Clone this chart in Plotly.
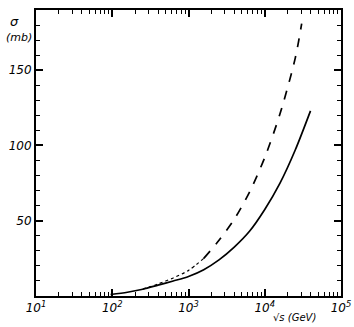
import plotly.graph_objects as go

# Energy sqrt(s) in GeV and cross sections in mb
solid_s = [95, 158, 251, 398, 631, 1000, 1585, 2512, 3981, 6310, 10000, 15849, 25119, 39811]
solid_sigma = [1.0, 2.5, 4.5, 7.2, 10.0, 13.0, 17.5, 24.0, 32.5, 43.0, 57.5, 75.0, 97.0, 123.0]

dotted_s = [251, 398, 631, 1000, 1585]
dotted_sigma = [4.5, 8.0, 12.0, 17.0, 25.0]

dashed_s = [1585, 2512, 3981, 6310, 10000, 15849, 25119, 30500]
dashed_sigma = [25.0, 37.0, 51.0, 69.0, 92.0, 121.0, 158.0, 181.0]

x_tickvals = [10, 100, 1000, 10000, 100000]
x_ticktext = ["10<sup>1</sup>", "10<sup>2</sup>", "10<sup>3</sup>", "10<sup>4</sup>", "10<sup>5</sup>"]
x_minorvals = [m * d for d in [10, 100, 1000, 10000] for m in range(2, 10)]
y_tickvals = [50, 100, 150]
y_ticktext = ["50", "100", "150"]
y_minorvals = [v for v in range(10, 190, 10) if v % 50 != 0]

fig = go.Figure()
fig.add_trace(go.Scatter(x=solid_s, y=solid_sigma, mode="lines",
                         line=dict(color="black", width=1.7, shape="spline", smoothing=0.8), showlegend=False))
fig.add_trace(go.Scatter(x=dotted_s, y=dotted_sigma, mode="lines",
                         line=dict(color="black", width=1.2, dash="dot", shape="spline", smoothing=0.8), showlegend=False))
fig.add_trace(go.Scatter(x=dashed_s, y=dashed_sigma, mode="lines",
                         line=dict(color="black", width=1.7, dash="dash", shape="spline", smoothing=0.8), showlegend=False))
# invisible trace to carry the minor-tick axes
fig.add_trace(go.Scatter(x=[10], y=[0], xaxis="x2", yaxis="y2", mode="markers",
                         marker=dict(opacity=0), showlegend=False, hoverinfo="skip"))

font = dict(family="DejaVu Sans", size=12, color="black", style="italic")

fig.update_layout(
    xaxis=dict(type="log", range=[1, 5], tickvals=x_tickvals, ticktext=x_ticktext,
               ticks="inside", ticklen=7, tickwidth=1.6, tickcolor="black",
               showline=True, linewidth=2, linecolor="black", mirror="ticks",
               showgrid=False, zeroline=False, tickfont=font, automargin=False),
    yaxis=dict(range=[0, 190], tickvals=y_tickvals, ticktext=y_ticktext,
               ticks="inside", ticklen=7, tickwidth=1.6, tickcolor="black",
               showline=True, linewidth=2, linecolor="black", mirror="ticks",
               showgrid=False, zeroline=False, tickfont=font, automargin=False),
    xaxis2=dict(type="log", range=[1, 5], overlaying="x", side="bottom", anchor="y",
                tickvals=x_minorvals, showticklabels=False, ticks="inside", ticklen=4,
                tickwidth=1.3, tickcolor="black", mirror="ticks", showline=False,
                showgrid=False, zeroline=False, automargin=False),
    yaxis2=dict(range=[0, 190], overlaying="y", side="left", anchor="x",
                tickvals=y_minorvals, showticklabels=False, ticks="inside", ticklen=4,
                tickwidth=1.3, tickcolor="black", mirror="ticks", showline=False,
                showgrid=False, zeroline=False, automargin=False),
)

fig.add_annotation(text="σ", xref="paper", yref="paper", x=-0.069, y=0.96, xanchor="center", yanchor="middle",
                   showarrow=False, font=dict(family="DejaVu Sans", size=13, color="black", style="italic"))
fig.add_annotation(text="(mb)", xref="paper", yref="paper", x=-0.056, y=0.905, xanchor="center", yanchor="middle",
                   showarrow=False, font=dict(family="DejaVu Sans", size=11, color="black", style="italic"))
fig.add_annotation(text="√s (GeV)", xref="paper", yref="paper", x=0.846, y=-0.075, xanchor="center", yanchor="middle",
                   showarrow=False, font=dict(family="DejaVu Sans", size=10, color="black", style="italic"))

fig.update_layout(width=354, height=327, margin=dict(l=36, r=13, t=10, b=31),
                  paper_bgcolor="white", plot_bgcolor="white")
fig.write_html("out.html", config={"displayModeBar": False},
               post_script="document.body.style.margin='0';document.body.style.padding='0';")
